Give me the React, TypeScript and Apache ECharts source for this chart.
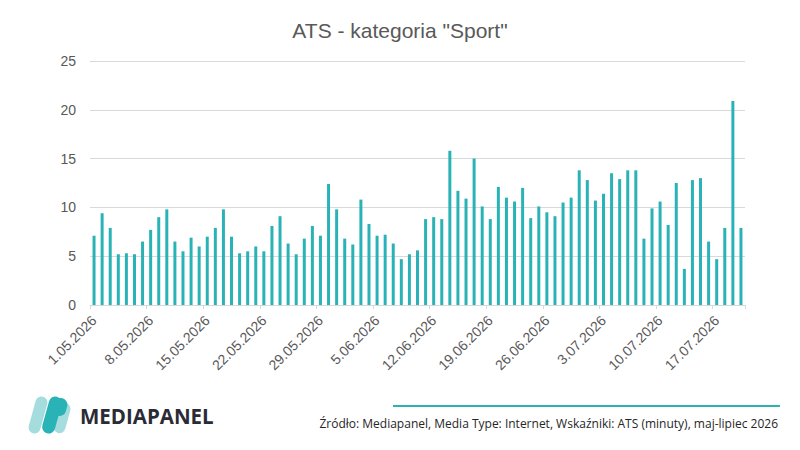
import React, { useEffect, useRef } from "react";
import * as echarts from "echarts";

const TITLE = 'ATS - kategoria "Sport"';
const SOURCE = "Źródło: Mediapanel, Media Type: Internet, Wskaźniki: ATS (minuty), maj-lipiec 2026";
const BRAND = "MEDIAPANEL";

const START_DAY = 1; // 1 May 2026
const DAY_COUNT = 81;
const MONTH_LENGTHS = [31, 30, 31]; // May, June, July
const FIRST_MONTH = 5;
const YEAR = 2026;

const categories: string[] = (() => {
  const out: string[] = [];
  let d = START_DAY;
  let m = 0;
  for (let i = 0; i < DAY_COUNT; i++) {
    out.push(`${d}.${String(FIRST_MONTH + m).padStart(2, "0")}.${YEAR}`);
    d++;
    if (d > MONTH_LENGTHS[m]) {
      d = 1;
      m++;
    }
  }
  return out;
})();

const atsMay = [
  7.1, 9.4, 7.9, 5.2, 5.3, 5.2, 6.5, 7.7, 9.0, 9.8,
  6.5, 5.5, 6.9, 6.0, 7.0, 7.9, 9.8, 7.0, 5.3, 5.5,
  6.0, 5.5, 8.1, 9.1, 6.3, 5.2, 6.8, 8.1, 7.1, 12.4,
  9.8,
];
const atsJune = [
  6.8, 6.2, 10.8, 8.3, 7.1, 7.2, 6.3, 4.7, 5.2, 5.6,
  8.8, 9.0, 8.8, 15.8, 11.7, 10.9, 15.0, 10.1, 8.8, 12.1,
  11.0, 10.6, 12.0, 8.9, 10.1, 9.5, 9.1, 10.5, 11.0, 13.8,
];
const atsJuly = [
  12.8, 10.7, 11.4, 13.5, 12.9, 13.8, 13.8, 6.8, 9.9, 10.6,
  8.2, 12.5, 3.7, 12.8, 13.0, 6.5, 4.7, 7.9, 20.9, 7.9,
];
const atsValues = [...atsMay, ...atsJune, ...atsJuly];

const Y_MIN = 0;
const Y_MAX = 25;
const Y_STEP = 5;

const TEAL = "#2ab3b6";
const LIGHT_TEAL = "#a5dcdd";
const GREY_TEXT = "#595959";
const GRID_GREY = "#d9d9d9";
const FONT = "Liberation Sans, Arial, sans-serif";

export default function App() {
  const ref = useRef<HTMLDivElement>(null);

  useEffect(() => {
    if (!ref.current) return;
    const chart = echarts.init(ref.current, undefined, { renderer: "svg" });
    const rot = -0.27;
    chart.setOption({
      animation: false,
      backgroundColor: "#ffffff",
      title: {
        text: TITLE,
        left: "center",
        top: 15,
        textStyle: {
          fontFamily: FONT,
          fontSize: 21,
          fontWeight: "normal",
          color: GREY_TEXT,
        },
      },
      grid: { left: 90, right: 55, top: 61, bottom: 145, containLabel: false },
      xAxis: {
        type: "category",
        data: categories,
        boundaryGap: true,
        axisLine: { show: true, lineStyle: { color: GRID_GREY, width: 1 } },
        axisTick: { show: true, interval: 6, length: 4, lineStyle: { color: GRID_GREY } },
        axisLabel: {
          interval: 6,
          rotate: 45,
          margin: 13,
          color: GREY_TEXT,
          fontSize: 14,
          fontFamily: FONT,
        },
      },
      yAxis: {
        type: "value",
        min: Y_MIN,
        max: Y_MAX,
        interval: Y_STEP,
        axisLine: { show: false },
        axisTick: { show: false },
        splitLine: { lineStyle: { color: GRID_GREY, width: 1 } },
        axisLabel: {
          margin: 14,
          color: GREY_TEXT,
          fontSize: 14,
          fontFamily: FONT,
        },
      },
      series: [
        {
          type: "bar",
          data: atsValues,
          barWidth: 3,
          itemStyle: { color: TEAL },
        },
      ],
      graphic: [
        {
          type: "line",
          shape: { x1: 393, y1: 406, x2: 780, y2: 406 },
          style: { stroke: TEAL, lineWidth: 2 },
        },
        {
          type: "text",
          x: 778,
          y: 423,
          style: {
            text: SOURCE,
            align: "right",
            verticalAlign: "middle",
            fontFamily: "Open Sans, sans-serif",
            fontSize: 12,
            fill: "#262626",
          },
        },
        {
          type: "text",
          x: 80,
          y: 416,
          style: {
            text: BRAND,
            align: "left",
            verticalAlign: "middle",
            fontFamily: "Open Sans, sans-serif",
            fontWeight: "bold",
            fontSize: 20.5,
            fill: "#2b2b36",
          },
        },
        {
          type: "rect",
          x: 38,
          y: 415,
          rotation: rot,
          shape: { x: -6, y: -19, width: 12, height: 38, r: 6 },
          style: { fill: LIGHT_TEAL },
        },
        {
          type: "rect",
          x: 62,
          y: 418,
          rotation: rot,
          shape: { x: -6, y: -15.5, width: 12, height: 31, r: 6 },
          style: { fill: LIGHT_TEAL },
        },
        {
          type: "rect",
          x: 60,
          y: 408,
          rotation: rot,
          shape: { x: -6.5, y: -10, width: 13, height: 18, r: 6.5 },
          style: { fill: TEAL },
        },
        {
          type: "rect",
          x: 52,
          y: 415,
          rotation: rot,
          shape: { x: -6.5, y: -19, width: 13, height: 38, r: 6.5 },
          style: { fill: TEAL },
        },
      ],
    });
    return () => chart.dispose();
  }, []);

  return (
    <div
      ref={ref}
      style={{ position: "fixed", left: 0, top: 0, width: 800, height: 450, background: "#fff" }}
    />
  );
}
